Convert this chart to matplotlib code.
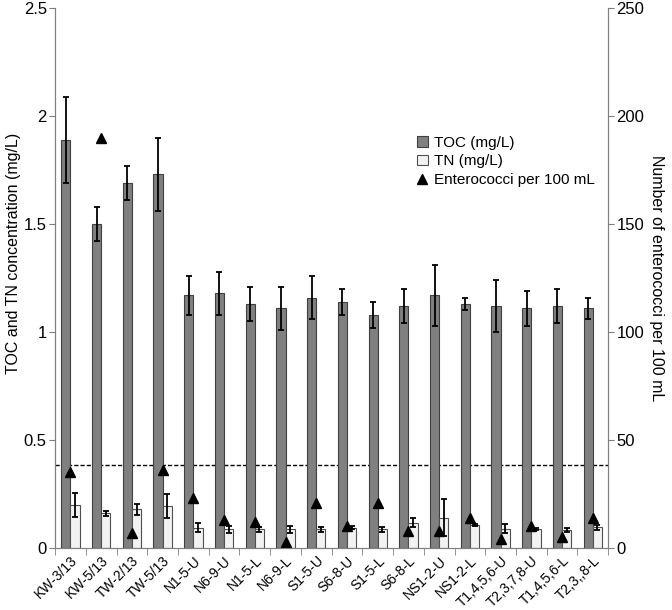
import numpy as np
import matplotlib
matplotlib.use("Agg")
import matplotlib.pyplot as plt
from matplotlib.ticker import FuncFormatter

plt.rcParams["font.family"] = ["Liberation Sans", "DejaVu Sans"]

sites = ["KW-3/13", "KW-5/13", "TW-2/13", "TW-5/13", "N1-5-U", "N6-9-U",
         "N1-5-L", "N6-9-L", "S1-5-U", "S6-8-U", "S1-5-L", "S6-8-L",
         "NS1-2-U", "NS1-2-L", "T1,4,5,6-U", "T2,3,7,8-U", "T1,4,5,6-L",
         "T2,3,,8-L"]
toc = [1.89, 1.50, 1.69, 1.73, 1.17, 1.18, 1.13, 1.11, 1.16, 1.14, 1.08,
       1.12, 1.17, 1.13, 1.12, 1.11, 1.12, 1.11]
toc_err = [0.20, 0.08, 0.08, 0.17, 0.09, 0.10, 0.08, 0.10, 0.10, 0.06,
           0.06, 0.08, 0.14, 0.03, 0.12, 0.08, 0.08, 0.05]
tn = [0.20, 0.16, 0.18, 0.196, 0.094, 0.086, 0.086, 0.086, 0.086, 0.094,
      0.086, 0.117, 0.14, 0.106, 0.09, 0.088, 0.083, 0.096]
tn_err = [0.055, 0.01, 0.025, 0.055, 0.02, 0.015, 0.01, 0.015, 0.013,
          0.008, 0.01, 0.02, 0.085, 0.003, 0.02, 0.005, 0.01, 0.012]
entero = [35, 190, 7, 36, 23, 13, 12, 3, 21, 10, 21, 8, 8, 14, 4, 10, 5, 14]
threshold = 0.384  # dashed reference line, left-axis units

x = np.arange(len(sites))
w = 0.3

fig = plt.figure(figsize=(6.72, 6.10), dpi=100)
ax = fig.add_axes([0.082, 0.1016, 0.823, 0.885])
ax2 = ax.twinx()

err_kw = dict(ecolor="black", elinewidth=1.3, capsize=2.5, capthick=1.3)
ax.bar(x - w / 2, toc, w, yerr=toc_err, color="#808080",
       edgecolor="#404040", linewidth=0.8, error_kw=err_kw,
       label="TOC (mg/L)", zorder=2)
ax.bar(x + w / 2, tn, w, yerr=tn_err, color="#f2f2f2",
       edgecolor="#505050", linewidth=0.8, error_kw=err_kw,
       label="TN (mg/L)", zorder=2)
ax.axhline(threshold, color="black", linestyle=(0, (3, 1.5)), linewidth=1,
           zorder=1)

ax2.plot(x, entero, linestyle="none", marker="^", color="black",
         markersize=6.5, label="Enterococci per 100 mL")

ax.set_xlim(-0.5, len(sites) - 0.5)
ax.set_ylim(0, 2.5)
ax2.set_ylim(0, 250)
ax.set_yticks([0, 0.5, 1, 1.5, 2, 2.5])
ax.yaxis.set_major_formatter(FuncFormatter(lambda v, p: f"{v:g}"))
ax2.set_yticks([0, 50, 100, 150, 200, 250])

ax.set_xticks(x)
ax.set_xticklabels(sites, rotation=45, ha="right", rotation_mode="anchor",
                   fontsize=10)
ax.tick_params(axis="x", length=0, pad=4)
ax.set_xticks(np.arange(-0.5, len(sites), 1), minor=True)
ax.tick_params(axis="x", which="minor", length=5, color="#808080")

for a in (ax, ax2):
    a.tick_params(axis="y", labelsize=12, length=4, color="#808080",
                  direction="out", pad=2)
    for s in ("left", "right", "bottom"):
        a.spines[s].set_color("#808080")
    a.spines["top"].set_visible(False)

ax.set_ylabel("TOC and TN concentration (mg/L)", fontsize=11.5)
ax.yaxis.set_label_coords(-0.062, 0.546)
ax2.set_ylabel("Number of enterococci per 100 mL", fontsize=11.5,
               rotation=270, labelpad=14)

h1, l1 = ax.get_legend_handles_labels()
h2, l2 = ax2.get_legend_handles_labels()
fig.legend(h1 + h2, l1 + l2, loc="upper left",
           bbox_to_anchor=(0.60, 0.80), frameon=False, fontsize=11,
           handlelength=0.7, handleheight=0.7, handletextpad=0.4,
           labelspacing=0.3)

fig.savefig("out.png", dpi=100)
